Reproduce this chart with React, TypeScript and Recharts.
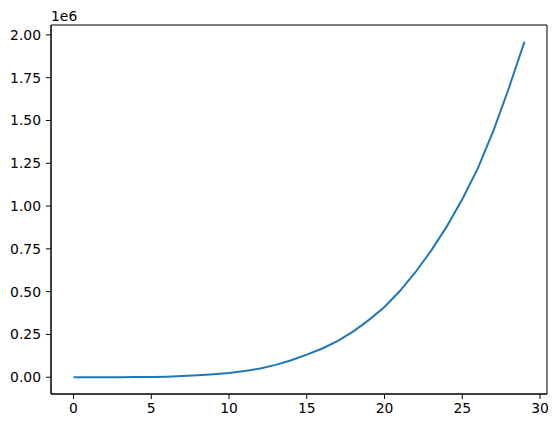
import { LineChart, Line, XAxis, YAxis, ReferenceArea } from "recharts";

const xValues = [
  0, 1, 2, 3, 4, 5, 6, 7, 8, 9, 10, 11, 12, 13, 14, 15, 16, 17, 18, 19, 20, 21,
  22, 23, 24, 25, 26, 27, 28, 29,
];

const yValues = [
  0, 0, 40, 200, 700, 1700, 3500, 6500, 11000, 17000, 25000, 36000, 51000,
  72000, 99000, 132000, 168000, 212000, 268000, 335000, 410000, 505000, 615000,
  740000, 880000, 1040000, 1220000, 1440000, 1690000, 1960000,
];

const xTicks = [0, 5, 10, 15, 20, 25, 30];
const yTicks = [0, 250000, 500000, 750000, 1000000, 1250000, 1500000, 1750000, 2000000];

const xDomain: [number, number] = [-1.45, 30.45];
const yDomain: [number, number] = [-98000, 2058000];

const data = xValues.map((x, i) => ({ x, y: yValues[i] }));

const FONT = "DejaVu Sans";
const tickStyle = { fill: "#000", fontSize: 13.9, fontFamily: FONT };
const axisStroke = { stroke: "#000", strokeWidth: 1 };

export default function App() {
  return (
    <div style={{ position: "absolute", left: 0, top: 0, width: 558, height: 428, background: "#fff" }}>
      <LineChart
        width={558}
        height={428}
        data={data}
        margin={{ top: 25, right: 11, bottom: 0, left: 0 }}
      >
        <XAxis
          dataKey="x"
          type="number"
          domain={xDomain}
          ticks={xTicks}
          allowDataOverflow
          height={34}
          tick={tickStyle}
          tickSize={5}
          tickMargin={4}
          tickLine={axisStroke}
          axisLine={axisStroke}
        />
        <YAxis
          type="number"
          domain={yDomain}
          ticks={yTicks}
          allowDataOverflow
          width={51}
          tick={tickStyle}
          tickSize={5}
          tickMargin={5}
          tickLine={axisStroke}
          axisLine={axisStroke}
          tickFormatter={(v: number) => (v / 1e6).toFixed(2)}
        />
        <ReferenceArea
          x1={xDomain[0]}
          x2={xDomain[1]}
          y1={yDomain[0]}
          y2={yDomain[1]}
          fill="none"
          fillOpacity={0}
          stroke="#000"
          strokeWidth={1}
          strokeOpacity={1}
        />
        <Line
          type="linear"
          dataKey="y"
          stroke="#1f77b4"
          strokeWidth={2}
          dot={false}
          isAnimationActive={false}
        />
      </LineChart>
      <div
        style={{
          position: "absolute",
          left: 51,
          top: 9,
          fontFamily: FONT,
          fontSize: 13.9,
          lineHeight: "14px",
          color: "#000",
        }}
      >
        1e6
      </div>
    </div>
  );
}
